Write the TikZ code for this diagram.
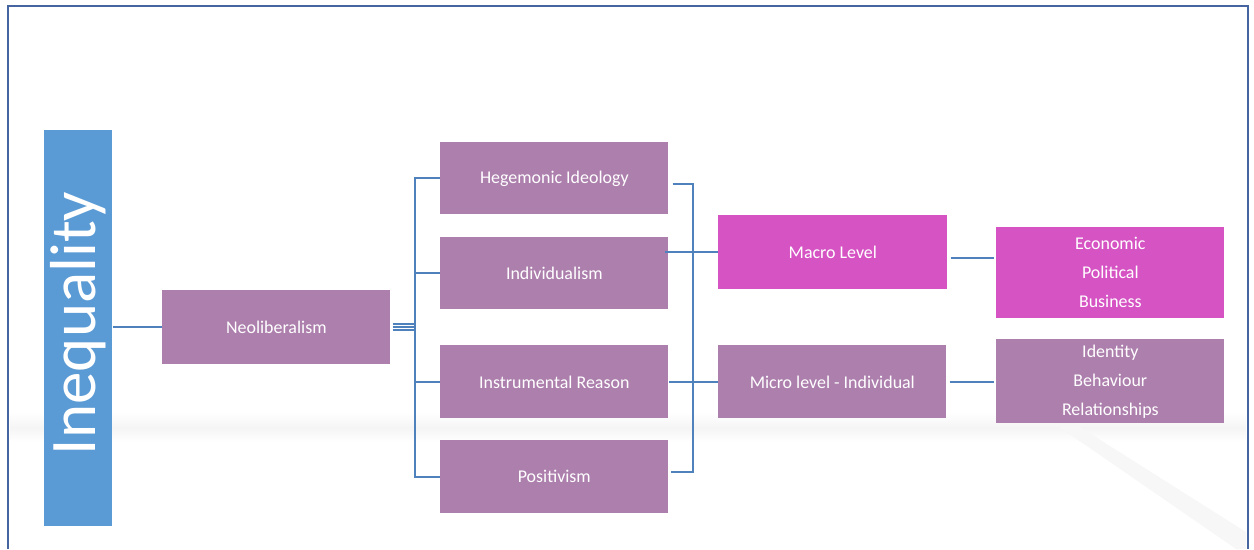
\documentclass[tikz,border=0pt]{standalone}
\usepackage{fontspec}
\setmainfont{Carlito}
\definecolor{boxpurple}{RGB}{173,127,173}
\definecolor{boxmagenta}{RGB}{214,83,196}
\definecolor{boxblue}{RGB}{91,155,213}
\definecolor{linkblue}{RGB}{79,129,189}
\definecolor{framecol}{RGB}{70,100,160}
\tikzset{
  pbox/.style={fill=boxpurple, draw=none, text=white, anchor=north west, inner sep=0pt, font=\fontsize{10.2}{16.5}\selectfont, align=center},
  mbox/.style={pbox, fill=boxmagenta},
  conn/.style={draw=linkblue, line width=1.1pt},
}
\begin{document}
\begin{tikzpicture}[x=0.02cm,y=-0.02cm]
\useasboundingbox (0,0) rectangle (1254,549);
% faint shadows
\shade[top color=white, bottom color=black!4] (10,412) rectangle (1246,428);
\shade[top color=black!4, bottom color=white] (10,428) rectangle (1246,442);
\fill[black!3] (1052,422) -- (1072,422) -- (1246,532) -- (1246,549) -- (1236,549) -- cycle;
% frame
\draw[framecol, line width=1.1pt] (8,549) -- (8,6) -- (1248,6) -- (1248,549);
% nodes
\node[pbox, fill=boxblue, minimum width=1.36cm, minimum height=7.92cm] (ineq) at (44,130) {};
\node[text=white, rotate=90, font=\fontsize{37}{40}\selectfont] (ineqt) at ([yshift=0.1cm]ineq.center) {Inequality};
\node[pbox, minimum width=4.56cm, minimum height=1.48cm] (neo) at (162,290) {Neoliberalism};
\node[pbox, minimum width=4.56cm, minimum height=1.44cm] (heg) at (440,142) {Hegemonic Ideology};
\node[pbox, minimum width=4.56cm, minimum height=1.44cm] (ind) at (440,237) {Individualism};
\node[pbox, minimum width=4.56cm, minimum height=1.46cm] (ins) at (440,345) {Instrumental Reason};
\node[pbox, minimum width=4.56cm, minimum height=1.46cm] (pos) at (440,440) {Positivism};
\node[mbox, minimum width=4.58cm, minimum height=1.48cm] (mac) at (718,215) {Macro Level};
\node[pbox, minimum width=4.56cm, minimum height=1.46cm] (mic) at (718,345) {Micro level - Individual};
\node[mbox, minimum width=4.56cm, minimum height=1.82cm] (eco) at (996,227) {Economic\\Political\\Business};
\node[pbox, minimum width=4.56cm, minimum height=1.68cm] (idn) at (996,339) {Identity\\Behaviour\\Relationships};
% connectors
\draw[conn] (ineq.east |- neo.west) -- (neo.west);
\coordinate (lbx) at (415,0);
\draw[conn] (heg.west) -- (heg.west -| lbx) -- (pos.west -| lbx) -- (pos.west);
\draw[conn] (ind.west) -- (ind.west -| lbx);
\draw[conn] (ins.west) -- (ins.west -| lbx);
\draw[conn] ([yshift=0.06cm]neo.east) ++(2,0) -- ([yshift=0.06cm]neo.east -| lbx);
\draw[conn] (neo.east) ++(2,0) -- (neo.east -| lbx);
\draw[conn] ([yshift=-0.06cm]neo.east) ++(2,0) -- ([yshift=-0.06cm]neo.east -| lbx);
\coordinate (rbt) at (693,184);
\coordinate (rbb) at (693,472);
\draw[conn] ([xshift=0.08cm]heg.east |- rbt) -- (rbt) -- (rbb) -- ([xshift=0.04cm]pos.east |- rbb);
\draw[conn] ([xshift=-0.08cm]ind.east |- mac.west) -- (mac.west);
\draw[conn] (ins.east |- mic.west) -- (mic.west);
\draw[conn] ([xshift=0.06cm]mac.east |- 0,258) -- ([xshift=-0.04cm]eco.west |- 0,258);
\draw[conn] ([xshift=0.06cm]mic.east |- 0,382) -- ([xshift=-0.04cm]idn.west |- 0,382);
\end{tikzpicture}
\end{document}
